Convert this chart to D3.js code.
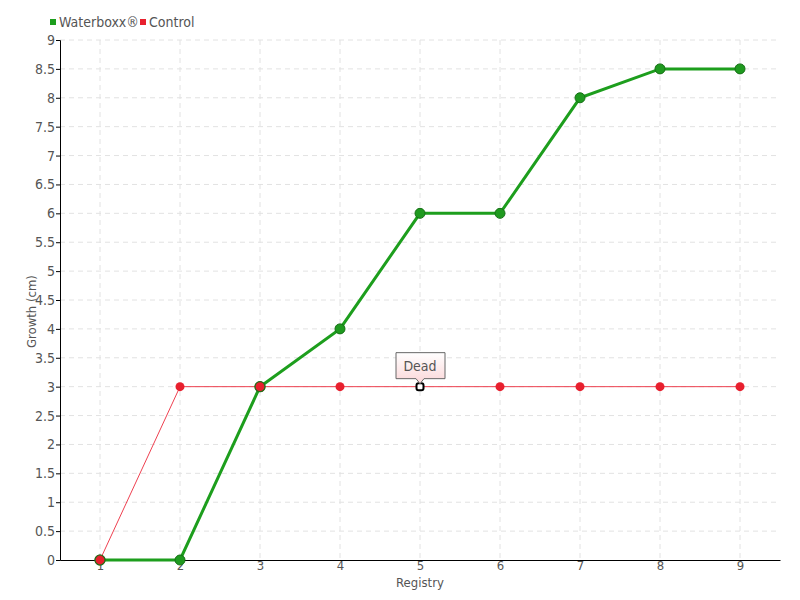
<!DOCTYPE html>
<html>
<head>
<meta charset="utf-8">
<script src="https://cdn.jsdelivr.net/npm/d3@7"></script>
<style>
  body { margin: 0; background: #fff; }
  svg text {
    font-family: "DejaVu Sans Condensed", "DejaVu Sans", sans-serif;
    font-stretch: condensed;
    fill: #555;
  }
</style>
</head>
<body>
<div id="chart"></div>
<script>
// Data
const registry = [1, 2, 3, 4, 5, 6, 7, 8, 9];
const waterboxx = [0, 0, 3, 4, 6, 6, 8, 8.5, 8.5];
const control = [0, 3, 3, 3, 3, 3, 3, 3, 3];
const yTicks = d3.range(0, 9.01, 0.5);
const seriesNames = ["Waterboxx\u00AE", "Control"];
const seriesColors = ["#1d9e1d", "#e8202e"];
const deadIndex = 4; // Control marker labelled "Dead"

const W = 800;
const H = 600;
const margin = { top: 40, right: 20, bottom: 40, left: 60 };

const svg = d3.select("#chart").append("svg").attr("width", W).attr("height", H);

const x = d3.scaleLinear().domain([0.5, 9.5]).range([margin.left, W - margin.right]);
const y = d3.scaleLinear().domain([0, 9]).range([H - margin.bottom, margin.top]);

// Grid
svg.append("g")
  .selectAll("line")
  .data(yTicks.slice(1))
  .enter()
  .append("line")
  .attr("x1", margin.left)
  .attr("x2", W - margin.right)
  .attr("y1", (d) => y(d))
  .attr("y2", (d) => y(d))
  .attr("stroke", "#e2e2e2")
  .attr("stroke-dasharray", "5,4");

svg.append("g")
  .selectAll("line")
  .data(registry)
  .enter()
  .append("line")
  .attr("x1", (d) => x(d))
  .attr("x2", (d) => x(d))
  .attr("y1", margin.top)
  .attr("y2", H - margin.bottom)
  .attr("stroke", "#e2e2e2")
  .attr("stroke-dasharray", "5,4");

// Axes
const yAxis = svg.append("g")
  .attr("transform", "translate(" + margin.left + ",0)")
  .call(d3.axisLeft(y).tickValues(yTicks).tickFormat(d3.format("")).tickSize(4).tickPadding(1));
yAxis.select(".domain").attr("stroke", "#000");
yAxis.selectAll(".tick line").attr("stroke", "#000");
yAxis.selectAll("text").style("font-size", "14px").attr("fill", "#555");

const xAxis = svg.append("g")
  .attr("transform", "translate(0," + (H - margin.bottom) + ")")
  .call(d3.axisBottom(x).tickValues(registry).tickFormat(d3.format("d")).tickSize(0).tickPadding(1));
xAxis.select(".domain").attr("stroke", "#000");
xAxis.selectAll("text").style("font-size", "13px").attr("fill", "#555");

// Axis titles
svg.append("text")
  .attr("x", (margin.left + W - margin.right) / 2)
  .attr("y", 587)
  .attr("text-anchor", "middle")
  .style("font-size", "13px")
  .text("Registry");

svg.append("text")
  .attr("transform", "translate(36," + y(4.3) + ") rotate(-90)")
  .attr("text-anchor", "middle")
  .style("font-size", "13px")
  .text("Growth (cm)");

const line = d3.line().x((d, i) => x(registry[i])).y((d) => y(d));

// Control (drawn first, thin)
svg.append("path")
  .datum(control)
  .attr("d", line)
  .attr("fill", "none")
  .attr("stroke", "#ee4050")
  .attr("stroke-width", 1);

// Waterboxx (thick)
svg.append("path")
  .datum(waterboxx)
  .attr("d", line)
  .attr("fill", "none")
  .attr("stroke", seriesColors[0])
  .attr("stroke-width", 3);

svg.append("g")
  .selectAll("circle")
  .data(waterboxx)
  .enter()
  .append("circle")
  .attr("cx", (d, i) => x(registry[i]))
  .attr("cy", (d) => y(d))
  .attr("r", 5)
  .attr("fill", "#1f9a1f")
  .attr("stroke", "#167016")
  .attr("stroke-width", 1);

// Control markers (the ones sitting on green points get a green rim)
const ctrlMarks = svg.append("g");
control.forEach((v, i) => {
  if (i === deadIndex) return;
  const onGreen = waterboxx[i] === v;
  ctrlMarks.append("circle")
    .attr("cx", x(registry[i]))
    .attr("cy", y(v))
    .attr("r", onGreen ? 5 : 4.5)
    .attr("fill", seriesColors[1])
    .attr("stroke", onGreen ? "#2a6a1a" : "none")
    .attr("stroke-width", 1.2);
});

// Dead marker + label
const dx = x(registry[deadIndex]);
const dy = y(control[deadIndex]);
svg.append("rect")
  .attr("x", dx - 3.5)
  .attr("y", dy - 3.5)
  .attr("width", 7)
  .attr("height", 7)
  .attr("rx", 2)
  .attr("fill", "#fff")
  .attr("stroke", "#000")
  .attr("stroke-width", 2);

const defs = svg.append("defs");
const grad = defs.append("linearGradient").attr("id", "tipGrad").attr("x1", 0).attr("y1", 0).attr("x2", 0).attr("y2", 1);
grad.append("stop").attr("offset", "0%").attr("stop-color", "#ffffff");
grad.append("stop").attr("offset", "100%").attr("stop-color", "#fbd6d8");

const bx = dx - 24, by = dy - 34, bw = 49, bh = 26;
svg.append("path")
  .attr("d",
    "M" + bx + "," + by +
    "h" + bw + "v" + bh +
    "H" + (dx + 4) + "L" + dx + "," + (by + bh + 5) + "L" + (dx - 4) + "," + (by + bh) +
    "H" + bx + "Z")
  .attr("fill", "url(#tipGrad)")
  .attr("stroke", "#666")
  .attr("stroke-width", 1);
svg.append("text")
  .attr("x", dx)
  .attr("y", by + 18)
  .attr("text-anchor", "middle")
  .style("font-size", "14px")
  .text("Dead");

// Legend
const legend = svg.append("g").attr("id", "legend");
const legendX = [50, 140];
seriesNames.forEach((name, i) => {
  legend.append("rect")
    .attr("x", legendX[i])
    .attr("y", 19)
    .attr("width", 6)
    .attr("height", 6)
    .attr("fill", seriesColors[i]);
  legend.append("text")
    .attr("x", legendX[i] + 9)
    .attr("y", 27)
    .style("font-size", "14px")
    .text(name);
});
</script>
</body>
</html>
